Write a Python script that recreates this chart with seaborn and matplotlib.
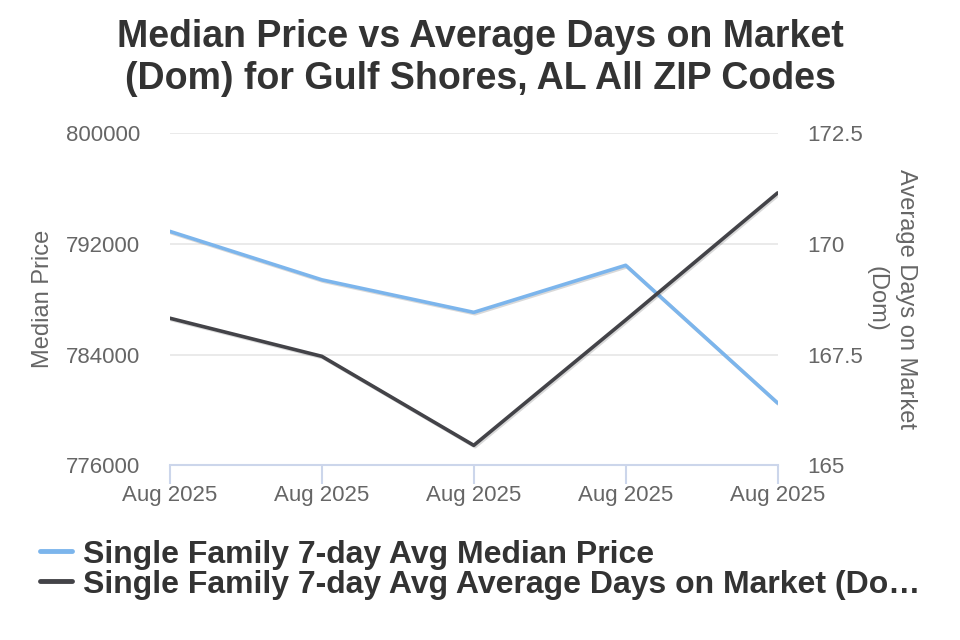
import numpy as np
import pandas as pd
import seaborn as sns
import matplotlib.pyplot as plt
import matplotlib.patheffects as pe

## data
dates = ["Aug 2025", "Aug 2025", "Aug 2025", "Aug 2025", "Aug 2025"]
median_price = [792900, 789400, 787050, 790450, 780500]
avg_dom = [168.32, 167.46, 165.45, 168.28, 171.15]

price_label = "Single Family 7-day Avg Median Price"
dom_label = "Single Family 7-day Avg Average Days on Market (Do\u2026"

blue = "#7cb5ec"
dark = "#434348"
text_grey = "#666666"

df = pd.DataFrame({"idx": np.arange(len(dates)), "price": median_price, "dom": avg_dom})

sns.set_style("white")
plt.rcParams["font.family"] = ["Liberation Sans", "DejaVu Sans"]

fig = plt.figure(figsize=(9.6, 6.4), dpi=100)
ax = fig.add_axes([0.177, 0.273, 0.633, 0.519])
ax2 = ax.twinx()

shadow = [pe.SimpleLineShadow(offset=(1, -1), alpha=0.15, shadow_color="black"), pe.Normal()]
sns.lineplot(data=df, x="idx", y="price", ax=ax, color=blue, linewidth=2.6,
             path_effects=shadow, label=price_label, legend=False)
sns.lineplot(data=df, x="idx", y="dom", ax=ax2, color=dark, linewidth=2.6,
             path_effects=shadow, label=dom_label, legend=False)

ax.set_xlim(0, len(dates) - 1)
ax.set_ylim(776000, 800000)
ax.set_yticks([776000, 784000, 792000, 800000])
ax2.set_ylim(165, 172.5)
ax2.set_yticks([165, 167.5, 170, 172.5])
ax2.set_yticklabels(["165", "167.5", "170", "172.5"])
ax.set_xticks(df["idx"])
ax.set_xticklabels(dates)

ax.grid(axis="y", color="#e6e6e6", linewidth=1.2)
ax.set_axisbelow(True)
for a in (ax, ax2):
    for s in ["top", "left", "right", "bottom"]:
        a.spines[s].set_visible(False)
ax.spines["bottom"].set_visible(True)
ax.spines["bottom"].set_color("#ccd6eb")
ax.spines["bottom"].set_linewidth(1.5)

ax.tick_params(axis="x", bottom=True, colors="#ccd6eb", length=13.5, width=1.5,
               labelcolor=text_grey, labelsize=16, pad=0.5)
ax.tick_params(axis="y", left=False, length=0, labelcolor=text_grey, labelsize=16, pad=21.5)
ax2.tick_params(axis="y", right=False, length=0, labelcolor=text_grey, labelsize=16, pad=21)

ax.set_xlabel("")
ax.set_ylabel("Median Price", color=text_grey, fontsize=17, labelpad=8.5)
ax2.set_ylabel("Average Days on Market\n(Dom)", color=text_grey, fontsize=17,
               rotation=270, labelpad=39.5, linespacing=1.45)

fig.suptitle("Median Price vs Average Days on Market\n(Dom) for Gulf Shores, AL All ZIP Codes",
             x=0.5, y=0.97, va="top", fontsize=27, fontweight="bold", color="#333333",
             linespacing=1.2)

h1, l1 = ax.get_legend_handles_labels()
h2, l2 = ax2.get_legend_handles_labels()
leg = fig.legend(h1 + h2, l1 + l2, loc="upper left", bbox_to_anchor=(0.042, 0.157),
                 frameon=False, borderpad=0, borderaxespad=0, handlelength=1.0,
                 handletextpad=0.35, labelspacing=0.0,
                 prop={"weight": "bold", "size": 23})
for t in leg.get_texts():
    t.set_color("#333333")
for line in leg.get_lines():
    line.set_linewidth(3.5)
    line.set_path_effects([])

fig.savefig("out.png", dpi=100)
